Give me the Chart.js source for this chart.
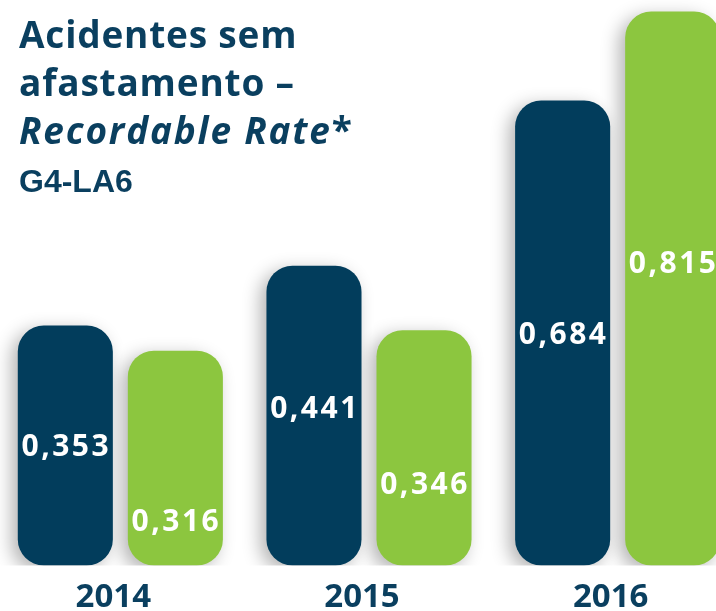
<!DOCTYPE html>
<html>
<head>
<meta charset="utf-8">
<script src="https://cdn.jsdelivr.net/npm/chart.js@4"></script>
<style>
  html, body { margin: 0; padding: 0; background: #fff; overflow: hidden; }
  body { width: 716px; height: 611px; position: relative; }
  .wrap { position: absolute; left: -4px; top: 0; width: 746px; height: 621px; }
  .title { position: absolute; left: 19px; top: 10px; color: #0a3f5f; font-family: "Open Sans", sans-serif; font-weight: 700; font-size: 37px; line-height: 48px; letter-spacing: 0.8px; z-index: 2; }
  .title i { font-style: italic; letter-spacing: 1.8px; }
  .title .code { font-family: "Liberation Sans", Arial, sans-serif; font-weight: 700; font-size: 32px; letter-spacing: 0; margin-top: 3px; }
</style>
</head>
<body>
<div class="title">
  <div>Acidentes sem</div>
  <div>afastamento –</div>
  <div><i>Recordable Rate</i>*</div>
  <div class="code">G4-LA6</div>
</div>
<div class="wrap"><canvas id="chart-1"></canvas></div>
<script>
const years = ["2014", "2015", "2016"];
const seriesA = [0.353, 0.441, 0.684];
const seriesB = [0.316, 0.346, 0.815];

// where the value sits inside each bar (fraction from top)
const labelSpotA = [0.51, 0.48, 0.505];
const labelSpotB = [0.80, 0.66, 0.457];

const barLook = {
  id: "barLook",
  beforeDatasetsDraw(chart) {
    const ctx = chart.ctx;
    ctx.save();
    ctx.shadowColor = "rgba(0,0,0,0.3)";
    ctx.shadowBlur = 18;
    ctx.shadowOffsetX = -6;
    ctx.shadowOffsetY = 5;
  },
  afterDatasetsDraw(chart) {
    const ctx = chart.ctx;
    ctx.restore();
    ctx.save();
    ctx.fillStyle = "#ffffff";
    ctx.font = "bold 30px 'Open Sans', sans-serif";
    ctx.textAlign = "center";
    ctx.textBaseline = "middle";
    ctx.letterSpacing = "2.5px";
    const spots = [labelSpotA, labelSpotB];
    chart.data.datasets.forEach((ds, di) => {
      chart.getDatasetMeta(di).data.forEach((bar, i) => {
        const y = bar.y + (bar.base - bar.y) * spots[di][i];
        const txt = ds.data[i].toFixed(3).replace(".", ",");
        ctx.fillText(txt, bar.x + 1, y);
      });
    });
    ctx.restore();
  }
};

new Chart("chart-1", {
  type: "bar",
  data: {
    labels: years,
    datasets: [{
      data: seriesA,
      backgroundColor: "#023d5c",
      borderRadius: 26,
      borderSkipped: false,
      barPercentage: 0.864,
      categoryPercentage: 0.885
    }, {
      data: seriesB,
      backgroundColor: "#8cc63f",
      borderRadius: 26,
      borderSkipped: false,
      barPercentage: 0.864,
      categoryPercentage: 0.885
    }]
  },
  plugins: [barLook],
  options: {
    responsive: true,
    maintainAspectRatio: false,
    animation: false,
    layout: { padding: 0 },
    plugins: {
      legend: { display: false },
      tooltip: { enabled: false }
    },
    scales: {
      x: {
        grid: { display: false },
        border: { display: false },
        ticks: {
          color: "#0a3f5f",
          padding: 4,
          labelOffset: -7,
          font: { family: "'Open Sans', sans-serif", size: 33, weight: "bold" }
        }
      },
      y: {
        display: false,
        min: 0,
        max: 0.832
      }
    }
  }
});
</script>
</body>
</html>
